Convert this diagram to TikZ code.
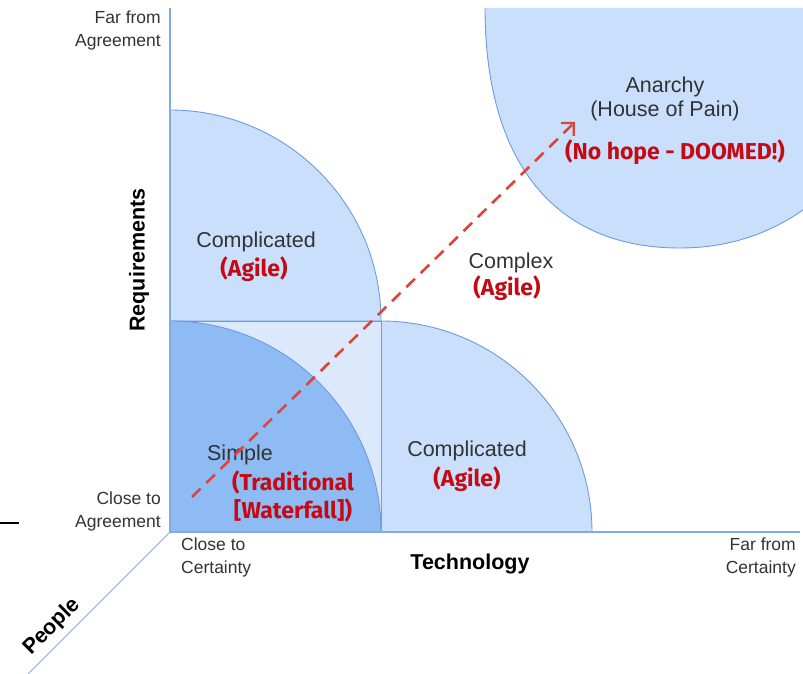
\documentclass[tikz,border=0pt]{standalone}
\usepackage{fontspec}
\setmainfont{Liberation Sans}
\newfontfamily\handfont{Fira Sans}
\usetikzlibrary{arrows.meta}

\definecolor{zonelight}{HTML}{C9DFFB}
\definecolor{zonepale}{HTML}{DCE9FC}
\definecolor{zonedark}{HTML}{8FBBF4}
\definecolor{zoneline}{HTML}{6D9BE0}
\definecolor{axisblue}{HTML}{80AAE6}
\definecolor{labelgray}{HTML}{333333}
\definecolor{agilered}{HTML}{C40A14}
\definecolor{pathred}{HTML}{DE4437}

\tikzset{
  zone/.style={draw=zoneline, line width=0.9pt},
  axisline/.style={draw=axisblue, line width=1.8pt},
  peopleaxis/.style={draw=axisblue, line width=1pt},
  endlabel/.style={inner sep=0pt, text=labelgray, align=right,
    font=\fontsize{17.5}{23}\selectfont},
  endlabelL/.style={endlabel, align=left},
  axistitle/.style={inner sep=0pt, text=black,
    font=\fontsize{21.5}{26}\selectfont\bfseries},
  zonename/.style={inner sep=0pt, text=labelgray, align=center,
    font=\fontsize{21.5}{24}\selectfont},
  method/.style={inner sep=0pt, text=agilered, align=center,
    font=\handfont\bfseries\fontsize{23}{28}\selectfont},
  pathline/.style={draw=pathred, line width=2.6pt, dash pattern=on 12pt off 8pt,
    -{Straight Barb[length=9pt, width=18pt, line width=2.2pt]}}
}

\begin{document}
\begin{tikzpicture}[x=1pt, y=1pt]
  \useasboundingbox (0,0) rectangle (803,674);

  % origin and axis ends
  \coordinate (O) at (170,142);
  \coordinate (reqtop) at (170,666);
  \coordinate (techend) at (800,142);
  \coordinate (peopleend) at (28,0);

  % anarchy region in the far corner
  \fill[zonelight] (485,666) .. controls (485,524) and (545,426) .. (680,426)
        .. controls (740,426) and (780,448) .. (803,464) -- (803,666) -- cycle;
  \draw[zoneline, line width=0.9pt] (485,666) .. controls (485,524) and (545,426) .. (680,426)
        .. controls (740,426) and (780,448) .. (803,464);

  % complicated zone above (requirements)
  \filldraw[zone, fill=zonelight] (170,353) -- (381,353) arc[start angle=0, end angle=90, radius=211] -- cycle;
  % complicated zone to the right (technology)
  \filldraw[zone, fill=zonelight] (381,142) -- (592,142) arc[start angle=0, end angle=90, radius=211] -- cycle;
  % overlap square and simple zone
  \filldraw[zone, fill=zonepale] (170,142) rectangle (381,353);
  \filldraw[zone, fill=zonedark] (170,142) -- (381,142) arc[start angle=0, end angle=90, radius=211] -- cycle;

  % axes
  \draw[axisline] (O) -- (reqtop);
  \draw[axisline] (O) -- (techend);
  \draw[peopleaxis] (O) -- (peopleend);

  % stray tick at the left edge
  \coordinate (tickA) at (0,151);
  \coordinate (tickB) at (19,151);
  \draw[black, line width=1.4pt] (tickA) -- (tickB);

  % axis end labels
  \node[endlabel, anchor=east] (farAgree) at (161,643.5) {Far from\\Agreement};
  \node[endlabel, anchor=east] (closeAgree) at (161,163) {Close to\\Agreement};
  \node[endlabelL, anchor=west] (closeCert) at (181,117) {Close to\\Certainty};
  \node[endlabel, anchor=east] (farCert) at (796,117) {Far from\\Certainty};

  % axis titles
  \node[axistitle] (tech) at (470,110) {Technology};
  \node[axistitle, rotate=90] (req) at (139,414) {Requirements};
  \node[axistitle, rotate=45] (people) at (52,47) {People};

  % zone labels
  \node[zonename] (compA) at (256,432) {Complicated};
  \node[method] (agileA) at (254,405) {(Agile)};
  \node[zonename] (complex) at (511,411) {Complex};
  \node[method] (agileB) at (507,386) {(Agile)};
  \node[zonename] (simple) at (240,219) {Simple};
  \node[method] (trad) at (293,178) {(Traditional\\\relax[Waterfall])};
  \node[zonename] (compB) at (467,223) {Complicated};
  \node[method] (agileC) at (467,195) {(Agile)};
  \node[zonename] (anarchy) at (665,575) {Anarchy\\(House of Pain)};
  \node[method] (doomed) at (675,522) {(No hope - DOOMED!)};

  % path from simple towards anarchy
  \coordinate (pathstart) at (192,177);
  \coordinate (pathend) at (575,552);
  \draw[pathline] (pathstart) -- (pathend);
\end{tikzpicture}
\end{document}
